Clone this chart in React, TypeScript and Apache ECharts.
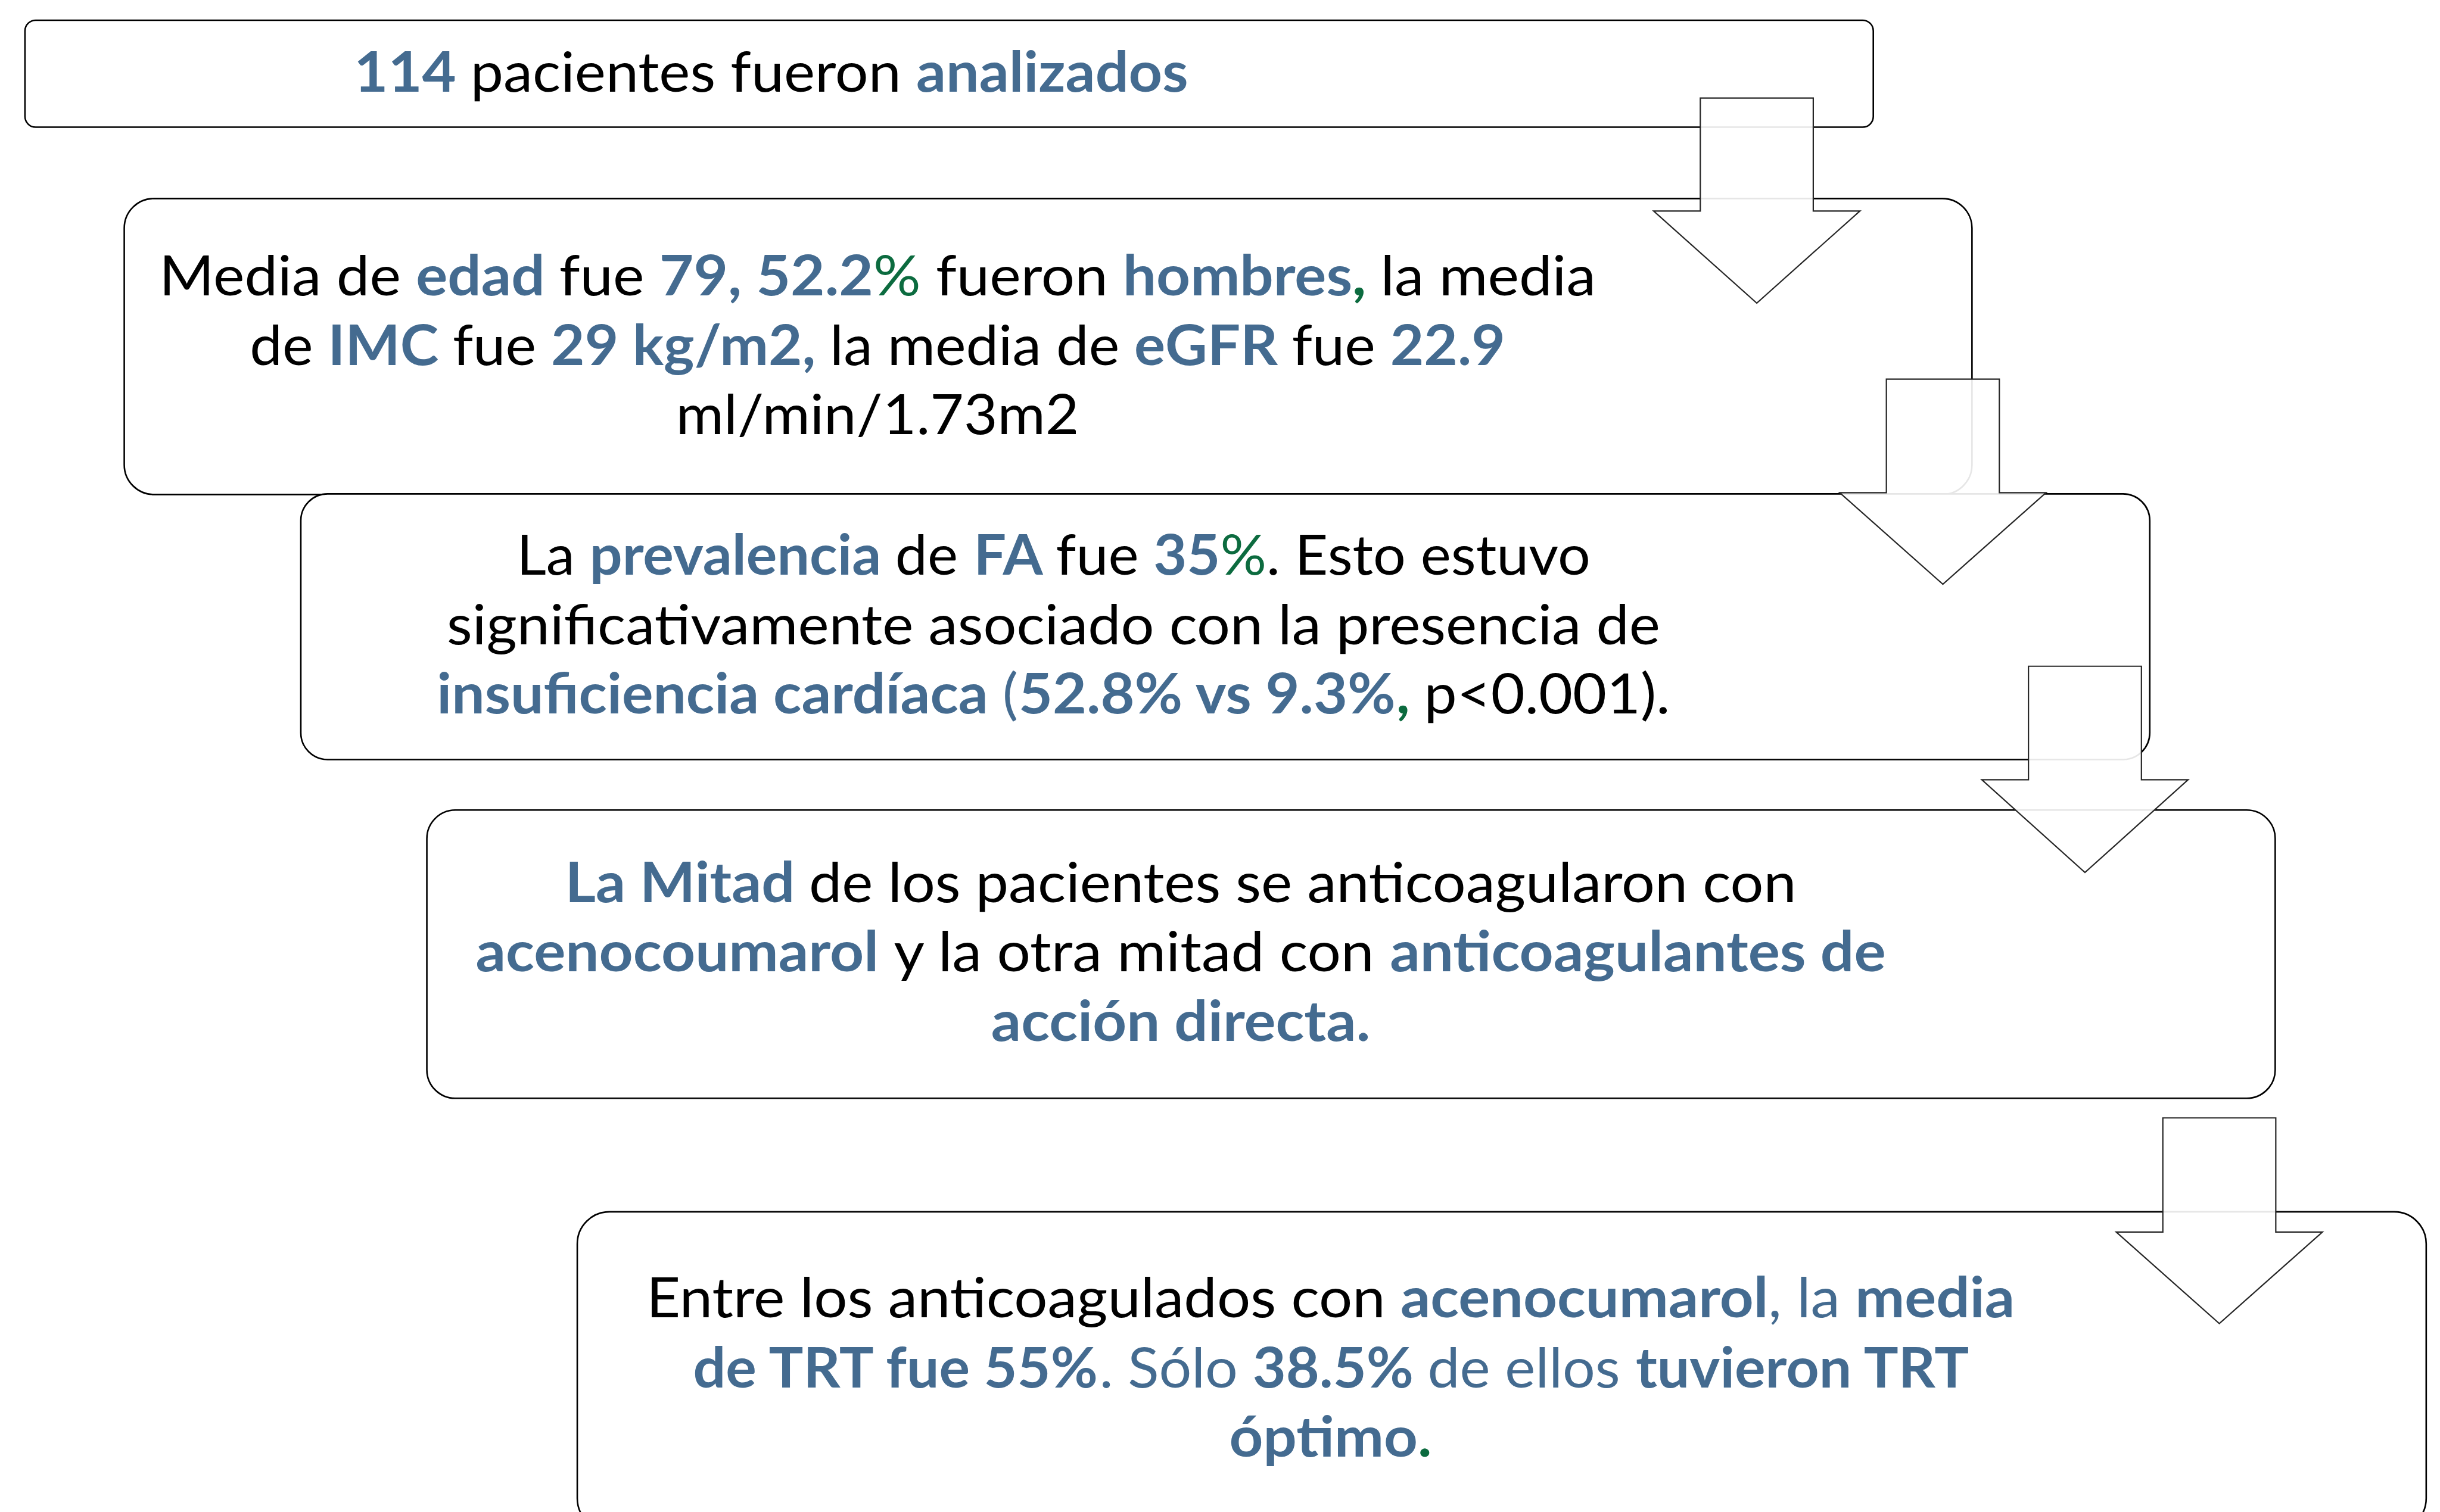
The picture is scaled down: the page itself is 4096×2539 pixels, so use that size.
import React, { useEffect, useRef } from 'react';
import * as echarts from 'echarts';

// ---------- text content (segment text, style key) ----------
// style keys: n = regular black, b = bold blue, nb = regular blue, g = regular green, gb = bold green
type Seg = [string, string];

const box1Lines: Seg[][] = [
  [['114', 'b'], [' pacientes fueron ', 'n'], ['analizados', 'b']],
];

const box2Lines: Seg[][] = [
  [['Media de ', 'n'], ['edad', 'b'], [' fue ', 'n'], ['79, 52.2', 'b'], ['%', 'g'], [' fueron ', 'n'], ['hombres', 'b'], [',', 'gb'], [' la media', 'n']],
  [['de ', 'n'], ['IMC', 'b'], [' fue ', 'n'], ['29 kg/m2,', 'b'], [' la media de ', 'n'], ['eGFR', 'b'], [' fue ', 'n'], ['22.9', 'b']],
  [['ml/min/1.73m2', 'n']],
];

const box3Lines: Seg[][] = [
  [['La ', 'n'], ['prevalencia', 'b'], [' de ', 'n'], ['FA', 'b'], [' fue ', 'n'], ['35', 'b'], ['%', 'g'], ['. Esto estuvo', 'n']],
  [['significativamente asociado con la presencia de', 'n']],
  [['insuficiencia cardíaca ', 'b'], ['(', 'nb'], ['52.8% vs 9.3%', 'b'], [',', 'gb'], [' p<0.001).', 'n']],
];

const box4Lines: Seg[][] = [
  [['La Mitad', 'b'], [' de los pacientes se anticoagularon con', 'n']],
  [['acenocoumarol', 'b'], [' y la otra mitad con ', 'n'], ['anticoagulantes de', 'b']],
  [['acción directa.', 'b']],
];

const box5Lines: Seg[][] = [
  [['Entre los anticoagulados con ', 'n'], ['acenocumarol', 'b'], [', la ', 'nb'], ['media', 'b']],
  [['de TRT fue 55%', 'b'], ['. Sólo ', 'nb'], ['38.5%', 'b'], [' de ellos ', 'nb'], ['tuvieron TRT', 'b']],
  [['óptimo', 'b'], ['.', 'gb']],
];

const allBoxLines: Seg[][][] = [box1Lines, box2Lines, box3Lines, box4Lines, box5Lines];

// ---------- layout (reference pixels) ----------
const S = 0.998;
const BLUE = '#446B90';
const GREEN = '#0C6B3F';
const FONT = 'Lato';
const FS = 93.5 * S;
const BASE_K = 0.387; // central-baseline offset factor

const boxRects = [
  { x: 42, y: 34, w: 3109, h: 180, r: 18 },
  { x: 209, y: 334, w: 3108, h: 498, r: 50 },
  { x: 506, y: 831, w: 3110, h: 447, r: 45 },
  { x: 718, y: 1363, w: 3109, h: 485, r: 48 },
  { x: 971, y: 2039, w: 3110, h: 536, r: 54 },
];

const textLayout = [
  { cx: 1297, baselines: [154], widths: [1400] },
  { cx: 1476, baselines: [497, 614, 730], widths: [2412, 2108, 674] },
  { cx: 1772, baselines: [967, 1084, 1200], widths: [1803, 2037, 2070] },
  { cx: 1986, baselines: [1518, 1635, 1752], widths: [2067, 2368, 634] },
  { cx: 2238, baselines: [2217, 2334, 2451], widths: [2299, 2146, 337] },
];

const arrows = [
  { cx: 2955, top: 165, headTop: 355, tip: 510 },
  { cx: 3268, top: 638, headTop: 829, tip: 983 },
  { cx: 3507, top: 1121, headTop: 1312, tip: 1468 },
  { cx: 3733, top: 1881, headTop: 2073, tip: 2227 },
];
const STEM_HALF = 95;
const HEAD_HALF = 173.5;

const richStyles: Record<string, any> = {
  n: { fill: '#000000', fontWeight: 'normal' },
  b: { fill: BLUE, fontWeight: 'bold' },
  nb: { fill: BLUE, fontWeight: 'normal' },
  g: { fill: GREEN, fontWeight: 'normal' },
  gb: { fill: GREEN, fontWeight: 'bold' },
};

function normalize(segs: Seg[]): Seg[] {
  const out: Seg[] = segs.map((s) => [s[0], s[1]] as Seg);
  for (let i = 1; i < out.length; i++) {
    const m = out[i][0].match(/^\s+/);
    if (m) {
      out[i - 1][0] += m[0];
      out[i][0] = out[i][0].slice(m[0].length);
    }
  }
  return out.filter((s) => s[0].length > 0);
}

export default function App() {
  const ref = useRef<HTMLDivElement>(null);

  useEffect(() => {
    if (!ref.current) return;
    const chart = echarts.init(ref.current, null, { renderer: 'svg' });

    const canvas = document.createElement('canvas');
    const ctx = canvas.getContext('2d')!;
    const measure = (segs: Seg[]) => {
      let w = 0;
      for (const [t, k] of segs) {
        const weight = richStyles[k].fontWeight === 'bold' ? 'bold' : 'normal';
        ctx.font = `${weight} ${FS}px ${FONT}`;
        w += ctx.measureText(t).width;
      }
      return w;
    };

    const rich: Record<string, any> = {};
    Object.keys(richStyles).forEach((k) => {
      rich[k] = { ...richStyles[k], fontSize: FS, fontFamily: FONT };
    });

    const elements: any[] = [];

    boxRects.forEach((b) => {
      elements.push({
        type: 'rect',
        shape: { x: b.x * S, y: b.y * S, width: b.w * S, height: b.h * S, r: b.r * S },
        style: { fill: '#ffffff', stroke: '#000000', lineWidth: 2.6 },
        z: 1,
      });
    });

    allBoxLines.forEach((lines, bi) => {
      const lay = textLayout[bi];
      lines.forEach((raw, li) => {
        const segs = normalize(raw);
        const measured = measure(segs);
        const target = lay.widths[li] * S + 0.04 * FS;
        const sx = measured > 0 ? target / measured : 1;
        const text = segs.map(([t, k]) => `{${k}|${t}}`).join('');
        elements.push({
          type: 'text',
          x: lay.cx * S,
          y: lay.baselines[li] * S - BASE_K * FS,
          scaleX: sx,
          z: 2,
          style: {
            text,
            align: 'center',
            verticalAlign: 'middle',
            fontSize: FS,
            fontFamily: FONT,
            fill: '#000000',
            rich,
          },
        });
      });
    });

    arrows.forEach((a) => {
      const pts = [
        [a.cx - STEM_HALF, a.top],
        [a.cx + STEM_HALF, a.top],
        [a.cx + STEM_HALF, a.headTop],
        [a.cx + HEAD_HALF, a.headTop],
        [a.cx, a.tip],
        [a.cx - HEAD_HALF, a.headTop],
        [a.cx - STEM_HALF, a.headTop],
      ].map(([x, y]) => [x * S, y * S]);
      elements.push({
        type: 'polygon',
        shape: { points: pts },
        style: { fill: 'rgba(255,255,255,0.9)', stroke: '#262626', lineWidth: 2.2 },
        z: 3,
      });
    });

    chart.setOption({
      animation: false,
      backgroundColor: '#ffffff',
      graphic: { elements },
    });

    return () => chart.dispose();
  }, []);

  return (
    <div
      ref={ref}
      style={{ position: 'fixed', left: 0, top: 0, width: 4096, height: 2539, background: '#ffffff' }}
    />
  );
}
